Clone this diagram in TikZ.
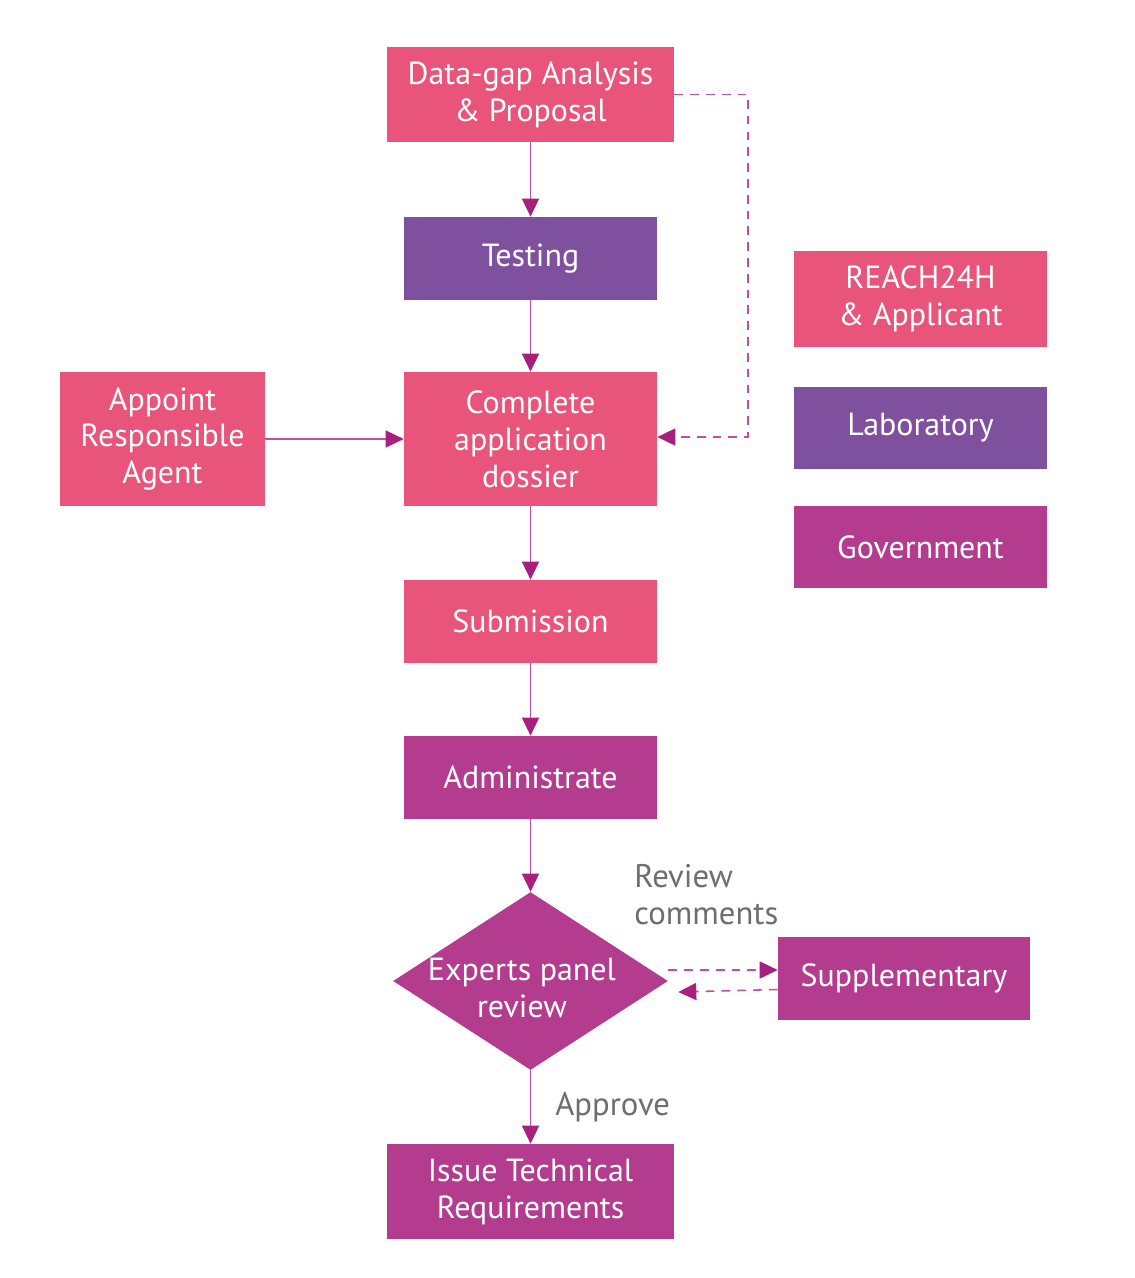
\documentclass[tikz,border=0pt]{standalone}
\usepackage{fontspec}
\setmainfont{PT Sans}
\usetikzlibrary{arrows.meta,shapes.geometric,positioning}
\definecolor{cpink}{HTML}{E8547A}
\definecolor{cviolet}{HTML}{7F509E}
\definecolor{cmag}{HTML}{B33C8E}
\definecolor{cline}{HTML}{C24FA6}
\definecolor{chead}{HTML}{A8207E}
\definecolor{clabel}{HTML}{6E6E6E}
\tikzset{
  box/.style={rectangle, draw=none, text=white, align=center, inner sep=0pt,
    font=\fontsize{18.2}{21}\selectfont},
  flow/.style={draw=cline, line width=0.9pt,
    -{Triangle[length=0.36cm,width=0.34cm,fill=chead,color=chead]}},
  dflow/.style={flow, dashed, dash pattern=on 5pt off 4pt},
  lbl/.style={text=clabel, align=left, inner sep=0pt, font=\fontsize{18.6}{21}\selectfont},
}
\begin{document}
\begin{tikzpicture}[x=0.02cm,y=-0.02cm]
\useasboundingbox (0,0) rectangle (1134,1278);
% legend
\node[box, fill=cpink, minimum width=5.06cm, minimum height=1.92cm] (leg1) at (920.5,299) {REACH24H\\\& Applicant};
\node[box, fill=cviolet, minimum width=5.06cm, minimum height=1.64cm] (leg2) at (920.5,428) {Laboratory};
\node[box, fill=cmag, minimum width=5.06cm, minimum height=1.64cm] (leg3) at (920.5,547) {Government};
% flow
\node[box, fill=cpink, minimum width=5.74cm, minimum height=1.9cm] (gap) at (530.5,94.5) {Data-gap Analysis\\\& Proposal};
\node[box, fill=cviolet, minimum width=5.06cm, minimum height=1.66cm] (test) at (530.5,258.5) {Testing};
\node[box, fill=cpink, minimum width=5.06cm, minimum height=2.68cm] (dos) at (530.5,439) {Complete\\application\\dossier};
\node[box, fill=cpink, minimum width=4.1cm, minimum height=2.68cm] (agent) at (162.5,439) {Appoint\\Responsible\\Agent};
\node[box, fill=cpink, minimum width=5.06cm, minimum height=1.66cm] (sub) at (530.5,621.5) {Submission};
\node[box, fill=cmag, minimum width=5.06cm, minimum height=1.66cm] (adm) at (530.5,777.5) {Administrate};
\node[diamond, fill=cmag, draw=none, minimum width=5.5cm, minimum height=3.56cm, inner sep=0pt] (exp) at (530.5,981) {};
\node[box] (exptxt) at (522,988) {Experts panel\\review};
\node[box, fill=cmag, minimum width=5.04cm, minimum height=1.66cm] (supp) at (904,978.5) {Supplementary};
\node[box, fill=cmag, minimum width=5.74cm, minimum height=1.9cm] (iss) at (530.5,1191.5) {Issue Technical\\Requirements};
% labels
\node[lbl, anchor=north west] (rc) at (634,864) {Review\\comments};
\node[lbl, anchor=west] (appr) at (555,1107) {Approve};
% connectors
\draw[flow] (gap.south) -- (test.north);
\draw[flow] (test.south) -- (dos.north);
\draw[flow] (agent.east) -- (dos.west);
\draw[flow] (dos.south) -- (sub.north);
\draw[flow] (sub.south) -- (adm.north);
\draw[flow] (adm.south) -- (exp.north);
\draw[flow] (exp.south) -- (iss.north);
\coordinate (c1) at (748,94.5);
\coordinate (c2) at (748,437);
\draw[dflow] (gap.east) -- (c1) -- (c2) -- (dos.east |- c2);
\draw[dflow] ([yshift=0.22cm]exp.east) -- ([yshift=0.22cm]exp.east -| supp.west);
\draw[dflow] ([yshift=-0.22cm]supp.west) -- ([xshift=0.2cm,yshift=-0.22cm]exp.east);
\end{tikzpicture}
\end{document}
